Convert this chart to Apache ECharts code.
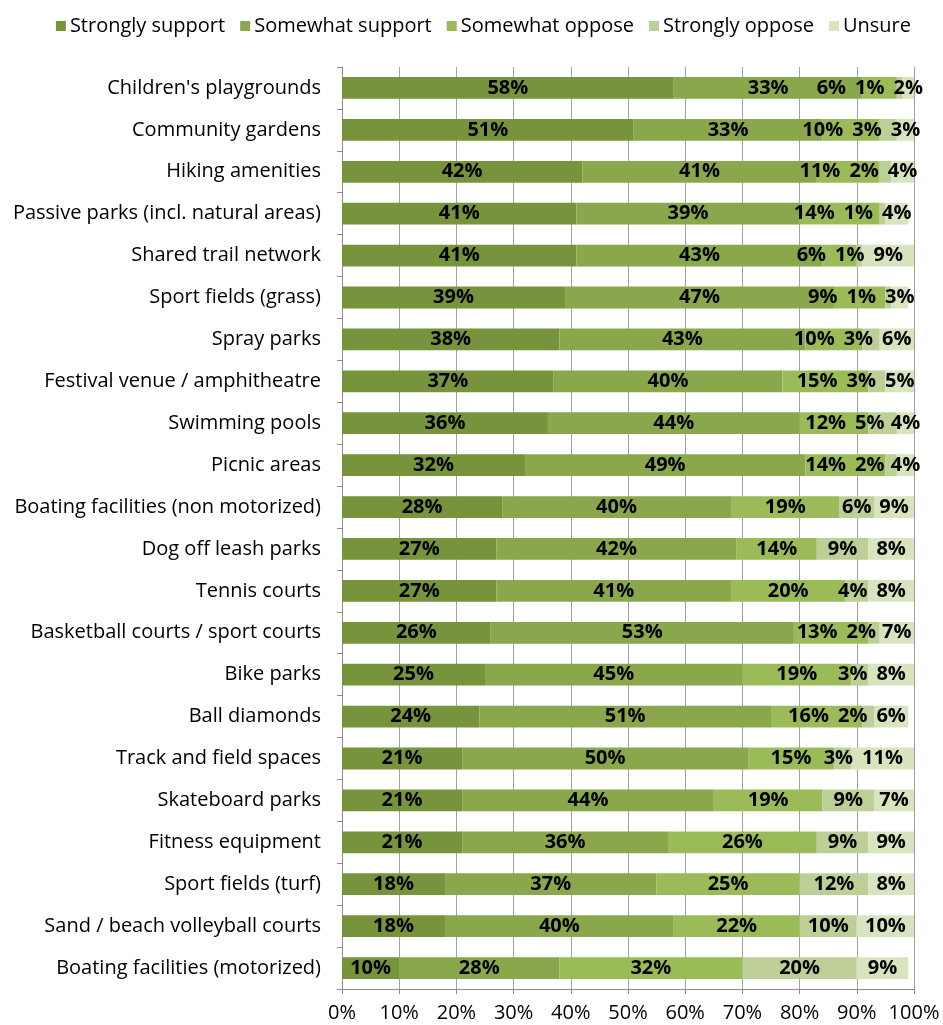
<!DOCTYPE html>
<html>
<head>
<meta charset="utf-8">
<script src="https://cdn.jsdelivr.net/npm/echarts@6/dist/echarts.min.js"></script>
<style>
  html, body { margin: 0; padding: 0; background: #ffffff; }
  #chart { width: 943px; height: 1025px; }
</style>
</head>
<body>
<div id="chart"></div>
<script>
// Support for park and recreation amenities (share of respondents, %)
const categories = [
  "Children's playgrounds",
  "Community gardens",
  "Hiking amenities",
  "Passive parks (incl. natural areas)",
  "Shared trail network",
  "Sport fields (grass)",
  "Spray parks",
  "Festival venue / amphitheatre",
  "Swimming pools",
  "Picnic areas",
  "Boating facilities (non motorized)",
  "Dog off leash parks",
  "Tennis courts",
  "Basketball courts / sport courts",
  "Bike parks",
  "Ball diamonds",
  "Track and field spaces",
  "Skateboard parks",
  "Fitness equipment",
  "Sport fields (turf)",
  "Sand / beach volleyball courts",
  "Boating facilities (motorized)"
];

const seriesNames = ["Strongly support", "Somewhat support", "Somewhat oppose", "Strongly oppose", "Unsure"];

const stronglySupport = [58, 51, 42, 41, 41, 39, 38, 37, 36, 32, 28, 27, 27, 26, 25, 24, 21, 21, 21, 18, 18, 10];
const somewhatSupport = [33, 33, 41, 39, 43, 47, 43, 40, 44, 49, 40, 42, 41, 53, 45, 51, 50, 44, 36, 37, 40, 28];
const somewhatOppose  = [6, 10, 11, 14, 6, 9, 10, 15, 12, 14, 19, 14, 20, 13, 19, 16, 15, 19, 26, 25, 22, 32];
const stronglyOppose  = [1, 3, 2, 1, 1, 1, 3, 3, 5, 2, 6, 9, 4, 2, 3, 2, 3, 9, 9, 12, 10, 20];
const unsure          = [2, 3, 4, 4, 9, 3, 6, 5, 4, 4, 9, 8, 8, 7, 8, 6, 11, 7, 9, 8, 10, 9];

const xTicks = [0, 10, 20, 30, 40, 50, 60, 70, 80, 90, 100];

const seriesValues = [stronglySupport, somewhatSupport, somewhatOppose, stronglyOppose, unsure];
const colors = ["#77933c", "#8aa84b", "#9bbb59", "#bbcf96", "#d7e4bd"];

const FONT = "'Open Sans', 'Noto Sans', sans-serif";
const TEXT_SIZE = 20;
const LABEL_SIZE = 20;
const LABEL_GAP = 9;

const chart = echarts.init(document.getElementById('chart'), null, { renderer: 'canvas' });

function buildSeries(offsets) {
  return seriesValues.map((vals, s) => ({
    name: seriesNames[s],
    type: 'bar',
    stack: 'total',
    barCategoryGap: '48%',
    itemStyle: { color: colors[s] },
    emphasis: { disabled: true },
    label: {
      show: true,
      position: 'inside',
      formatter: '{c}%',
      color: '#000000',
      fontFamily: FONT,
      fontWeight: 'bold',
      fontSize: LABEL_SIZE
    },
    data: vals.map((v, i) => ({
      value: v,
      label: { offset: [offsets ? offsets[s][i] : 0, 0] }
    }))
  }));
}

const option = {
  animation: false,
  backgroundColor: '#ffffff',
  color: colors,
  textStyle: { fontFamily: FONT },
  legend: {
    top: 11,
    right: 27,
    itemWidth: 10,
    itemHeight: 10,
    itemGap: 15,
    icon: 'rect',
    textStyle: { fontFamily: FONT, fontSize: 20, color: '#000000', padding: [0, 0, 0, -1] },
    data: seriesNames
  },
  grid: { left: 342, right: 29, top: 67, bottom: 36, containLabel: false },
  xAxis: {
    type: 'value',
    min: xTicks[0],
    max: xTicks[xTicks.length - 1],
    interval: xTicks[1] - xTicks[0],
    axisLine: { show: true, lineStyle: { color: '#8c8c8c', width: 1 } },
    axisTick: { show: true, length: 5, lineStyle: { color: '#8c8c8c' } },
    splitLine: { show: true, lineStyle: { color: '#a0a0a0', width: 1 } },
    axisLabel: {
      formatter: '{value}%',
      fontFamily: FONT,
      fontSize: TEXT_SIZE,
      color: '#000000',
      margin: 14
    }
  },
  yAxis: {
    type: 'category',
    inverse: true,
    data: categories,
    axisLine: { show: true, lineStyle: { color: '#8c8c8c', width: 1 } },
    axisTick: { show: true, length: 5, lineStyle: { color: '#8c8c8c' } },
    axisLabel: {
      fontFamily: FONT,
      fontSize: TEXT_SIZE,
      color: '#000000',
      margin: 21
    }
  },
  series: buildSeries(null)
};

chart.setOption(option);

// Push value labels of narrow segments leftwards so neighbouring labels don't collide
(function spreadLabels() {
  const ctx = document.createElement('canvas').getContext('2d');
  ctx.font = 'bold ' + LABEL_SIZE + 'px ' + FONT;
  const x0 = chart.convertToPixel({ xAxisIndex: 0 }, 0);
  const unit = chart.convertToPixel({ xAxisIndex: 0 }, 1) - x0;
  const offsets = seriesValues.map(() => new Array(categories.length).fill(0));
  for (let i = 0; i < categories.length; i++) {
    let start = 0;
    const centers = [];
    const widths = [];
    for (let s = 0; s < seriesValues.length; s++) {
      const v = seriesValues[s][i];
      centers.push(x0 + (start + v / 2) * unit);
      widths.push(ctx.measureText(v + '%').width);
      start += v;
    }
    let leftEdge = Infinity;
    for (let s = seriesValues.length - 1; s >= 0; s--) {
      let c = centers[s];
      const maxC = leftEdge - LABEL_GAP - widths[s] / 2;
      if (c > maxC) c = maxC;
      offsets[s][i] = c - centers[s];
      leftEdge = c - widths[s] / 2;
    }
  }
  chart.setOption({ series: buildSeries(offsets) });
})();
</script>
</body>
</html>
